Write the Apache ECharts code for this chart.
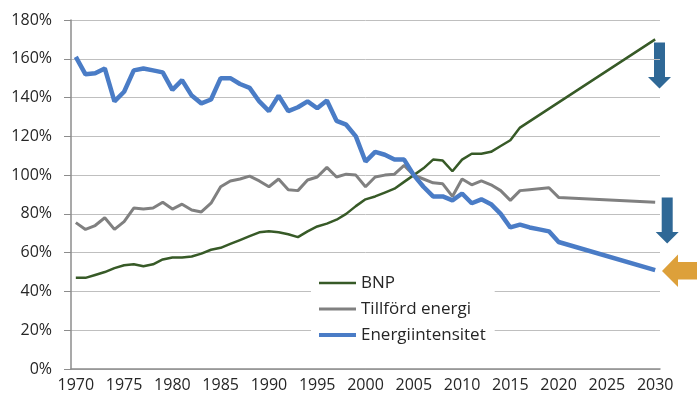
<!DOCTYPE html>
<html>
<head>
<meta charset="utf-8">
<script src="https://cdn.jsdelivr.net/npm/echarts@6.0.0/dist/echarts.min.js"></script>
<style>
  html, body { margin: 0; padding: 0; background: #fff; }
  #chart { width: 697px; height: 401px; }
</style>
</head>
<body>
<div id="chart"></div>
<script>
// 年份 1970-2030
const years = []
for (let y = 1970; y <= 2030; y++) years.push(String(y))

const yTicks = [0, 20, 40, 60, 80, 100, 120, 140, 160, 180]

// BNP
const bnp = [
  47, 47, 48.5, 50, 52, 53.5, 54, 53, 54, 56.5,
  57.5, 57.5, 58, 59.5, 61.5, 62.5, 64.5, 66.5, 68.5, 70.5,
  71, 70.5, 69.5, 68, 71, 73.5, 75, 77, 80, 84,
  87.5, 89, 91, 93, 96.5, 100, 103.5, 108, 107.5, 102,
  108, 111, 111, 112, 115, 118, 124.5, null, null, null,
  null, null, null, null, null, null, null, null, null, null,
  170
]

// Tillförd energi
const energi = [
  75.5, 72, 74, 78, 72, 76, 83, 82.5, 83, 86,
  82.5, 85, 82, 81, 85.5, 94, 97, 98, 99.5, 97,
  94, 98, 92.5, 92, 97.5, 99, 104, 99, 100.5, 100,
  94, 99, 100, 100.5, 105, 100, 98, 96, 95.5, 89,
  98, 95, 97, 95, 92, 87, 92, 92.5, 93, 93.5,
  88.5, null, null, null, null, null, null, null, null, null,
  86
]

// Energiintensitet
const intensitet = [
  161, 152, 152.5, 155, 138, 143, 154, 155, 154, 153,
  144, 149, 141, 137, 139, 150, 150, 147, 145, 138,
  133, 141, 133, 135, 138, 134.5, 138.5, 128, 126, 120,
  107, 112, 110.5, 108, 108, 100, 94, 89, 89, 87,
  90.5, 85.5, 87.5, 85, 80, 73, 74.5, 73, 72, 71,
  65.5, null, null, null, null, null, null, null, null, null,
  51
]

const chart = echarts.init(document.getElementById('chart'), null, { renderer: 'canvas' })

const font = "'Open Sans', 'Noto Sans', sans-serif"
const axisGray = '#8C8C8C'

// 图例线条（不带圆点）
const legendLine = function (h) {
  const a = (14 - h) / 2
  const b = a + h
  return 'path://M0,0M37,14M0,' + a + 'L37,' + a + 'L37,' + b + 'L0,' + b + 'Z'
}

const option = {
  animation: false,
  backgroundColor: '#fff',
  color: ['#375A27', '#808080', '#4A7CC6'],
  textStyle: { fontFamily: font },
  grid: { left: 71, right: 37, top: 20, bottom: 32 },
  legend: {
    orient: 'vertical',
    left: 311,
    top: 265,
    padding: [8, 9, 8, 8],
    itemGap: 6,
    itemWidth: 37,
    itemHeight: 14,
    backgroundColor: '#fff',
    textStyle: { fontSize: 17, lineHeight: 20, color: '#262626', fontFamily: font },
    data: [
      { name: 'BNP', icon: legendLine(2.4) },
      { name: 'Tillförd energi', icon: legendLine(3) },
      { name: 'Energiintensitet', icon: legendLine(4) }
    ]
  },
  xAxis: {
    type: 'category',
    data: years,
    boundaryGap: true,
    axisLine: { lineStyle: { color: axisGray, width: 1.5 } },
    axisTick: { interval: 4, length: 5, lineStyle: { color: axisGray } },
    axisLabel: { interval: 4, margin: 8, fontSize: 16, color: '#262626', fontFamily: font },
    splitLine: { show: false }
  },
  yAxis: {
    type: 'value',
    min: yTicks[0],
    max: yTicks[yTicks.length - 1],
    interval: 20,
    axisLine: { show: true, lineStyle: { color: axisGray, width: 1.5 } },
    axisTick: { show: true, inside: false, length: 7, lineStyle: { color: axisGray } },
    axisLabel: { margin: 19, fontSize: 16, color: '#262626', fontFamily: font, formatter: '{value}%' },
    splitLine: { lineStyle: { color: '#BFBFBF', width: 1 } }
  },
  series: [
    {
      name: 'BNP',
      type: 'line',
      data: bnp,
      symbol: 'none',
      connectNulls: true,
      lineStyle: { width: 2.5 }
    },
    {
      name: 'Tillförd energi',
      type: 'line',
      data: energi,
      symbol: 'none',
      connectNulls: true,
      lineStyle: { width: 3 }
    },
    {
      name: 'Energiintensitet',
      type: 'line',
      data: intensitet,
      symbol: 'none',
      connectNulls: true,
      lineStyle: { width: 4.5 }
    }
  ],
  // 右侧箭头
  graphic: [
    {
      type: 'polygon',
      shape: { points: [[654, 42.5], [665, 42.5], [665, 77], [671, 77], [659.5, 88.5], [648, 77], [654, 77]] },
      style: { fill: '#2F6896' }
    },
    {
      type: 'polygon',
      shape: { points: [[661.7, 197.5], [672.7, 197.5], [672.7, 232], [678.7, 232], [667.2, 243.5], [655.7, 232], [661.7, 232]] },
      style: { fill: '#2F6896' }
    },
    {
      type: 'polygon',
      shape: { points: [[697, 262], [678, 262], [678, 254.5], [662, 271], [678, 287], [678, 279.5], [697, 279.5]] },
      style: { fill: '#DDA03A' }
    }
  ]
}

chart.setOption(option)
</script>
</body>
</html>
